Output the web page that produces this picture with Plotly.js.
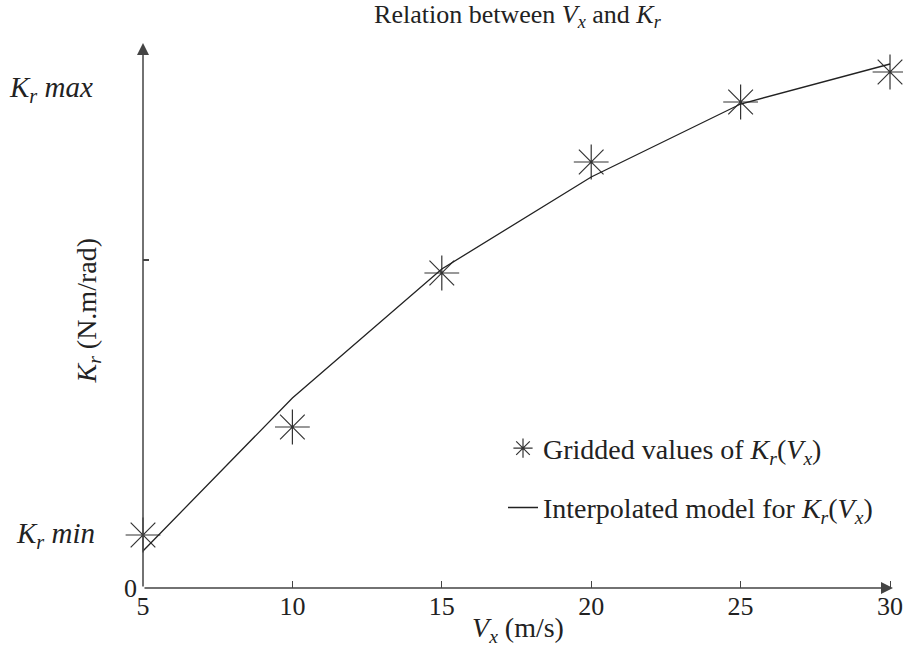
<!DOCTYPE html>
<html>
<head>
<meta charset="utf-8">
<script src="https://cdn.plot.ly/plotly-3.0.1.min.js"></script>
<style>html,body{margin:0;padding:0;background:#fff;}#chart{width:903px;height:647px;}</style>
</head>
<body>
<div id="chart"></div>
<script>
// Wind speed V_x (m/s)
var vx = [5, 10, 15, 20, 25, 30];
// Gridded values of K_r (normalised units, 0 .. K_r max)
var krGridded = [0.53, 1.61, 3.15, 4.26, 4.86, 5.16];
// Interpolated model for K_r
var krModel = [0.37, 1.90, 3.19, 4.11, 4.84, 5.24];
// Reference levels on the K_r axis
var krMin = 0.53;
var krMid = 3.28;
var krMax = 4.99;
var xTicks = [5, 10, 15, 20, 25, 30];
var xTickText = ['5', '10', '15', '20', '25', '30'];

var FONT = 'Liberation Serif, DejaVu Serif, serif';
var AX = '#444';
var TXT = '#222';

var traces = [
  {
    x: vx, y: krGridded, mode: 'markers', type: 'scatter',
    name: 'Gridded values of <i>K<sub>r</sub></i>(<i>V<sub>x</sub></i>)',
    legendgroup: 'a',
    marker: {symbol: 'asterisk-open', size: 29, color: '#333', line: {color: '#333', width: 1.2}},
    cliponaxis: false
  },
  {
    x: vx, y: krModel, mode: 'lines', type: 'scatter',
    name: 'Interpolated model for <i>K<sub>r</sub></i>(<i>V<sub>x</sub></i>)',
    legendgroup: 'b',
    line: {color: '#222', width: 1.3},
    cliponaxis: false
  }
];

var layout = {
  width: 903, height: 647,
  margin: {l: 143, r: 10, t: 43, b: 59},
  paper_bgcolor: '#fff', plot_bgcolor: '#fff',
  font: {family: FONT, color: TXT, size: 26},
  title: {text: 'Relation between <i>V<sub>x</sub></i> and <i>K<sub>r</sub></i>', x: 0.573, xanchor: 'center', y: 0.979, yanchor: 'middle', font: {family: FONT, size: 26, color: TXT}},
  showlegend: true,
  legend: {x: 0.48, xanchor: 'left', y: 0.302, yanchor: 'top', bgcolor: 'rgba(0,0,0,0)', traceorder: 'grouped', tracegroupgap: 20, font: {family: FONT, size: 28, color: TXT}},
  xaxis: {
    range: [5, 30.1], showgrid: false, zeroline: false, showline: false,
    tickmode: 'array', tickvals: xTicks, ticktext: xTickText,
    ticks: 'inside', ticklen: 7, tickwidth: 1, tickcolor: AX,
    ticklabeloverflow: 'allow',
    tickfont: {family: FONT, size: 26, color: TXT},
    title: {text: '<i>V<sub>x</sub></i> (m/s)', standoff: 0, font: {family: FONT, size: 28, color: TXT}},
    fixedrange: true
  },
  yaxis: {
    range: [0, 5.45], showgrid: false, zeroline: false, showline: false,
    tickmode: 'array', tickvals: [0, krMid], ticktext: ['0', ''],
    ticks: 'inside', ticklen: 6, tickwidth: 1.5, tickcolor: AX,
    ticklabelstandoff: 5,
    tickfont: {family: FONT, size: 26, color: TXT},
    fixedrange: true
  },
  annotations: [
    {x: 30.1, y: 0, ax: 5, ay: 0, xref: 'x', yref: 'y', axref: 'x', ayref: 'y', text: '', showarrow: true, arrowhead: 2, arrowsize: 1.6, arrowwidth: 1.5, arrowcolor: AX},
    {x: 5, y: 5.45, ax: 5, ay: 0, xref: 'x', yref: 'y', axref: 'x', ayref: 'y', text: '', showarrow: true, arrowhead: 2, arrowsize: 1.6, arrowwidth: 1.5, arrowcolor: AX},
    {x: 0, xref: 'paper', y: krMax, yref: 'y', xanchor: 'right', xshift: -48, text: '<i>K<sub>r</sub> max</i>', showarrow: false, font: {family: FONT, size: 29, color: TXT}},
    {x: 0, xref: 'paper', y: krMin, yref: 'y', xanchor: 'right', xshift: -46, text: '<i>K<sub>r</sub> min</i>', showarrow: false, font: {family: FONT, size: 29, color: TXT}},
    {x: 0, xref: 'paper', y: 0.5, yref: 'paper', xanchor: 'center', yanchor: 'middle', xshift: -55, yshift: 5, textangle: -90, text: '<i>K<sub>r</sub></i> (N.m/rad)', showarrow: false, font: {family: FONT, size: 28, color: TXT}}
  ]
};

Plotly.newPlot('chart', traces, layout, {displayModeBar: false, staticPlot: true});
</script>
</body>
</html>
